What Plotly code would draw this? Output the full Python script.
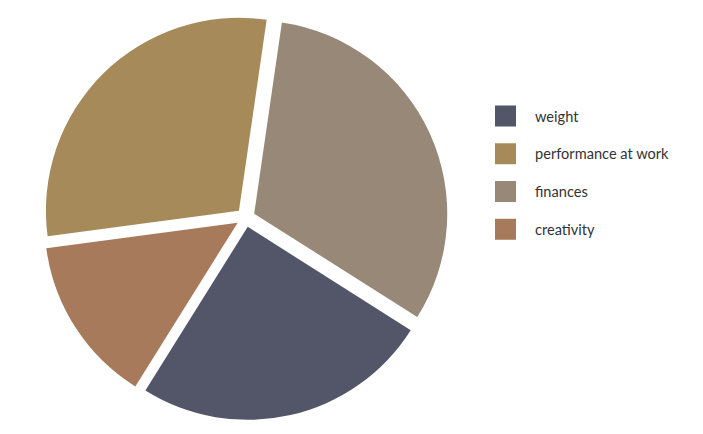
import plotly.graph_objects as go

# slice order as drawn clockwise (values in %)
pie_labels = ["finances", "weight", "creativity", "performance at work"]
pie_values = [31.7, 24.9, 14.0, 29.4]

# legend order
legend_labels = ["weight", "performance at work", "finances", "creativity"]
colors = {
    "weight": "#535668",
    "performance at work": "#A68A5A",
    "finances": "#978877",
    "creativity": "#A67A5A",
}

fig = go.Figure()
fig.add_trace(go.Pie(
    labels=pie_labels,
    values=pie_values,
    sort=False,
    direction="clockwise",
    rotation=8.25,
    pull=0.049,
    marker=dict(colors=[colors[l] for l in pie_labels], line=dict(color="white", width=0)),
    textinfo="none",
    showlegend=False,
    domain=dict(x=[43.1 / 703, 448.1 / 703], y=[13.9 / 434, 418.9 / 434]),
    hoverinfo="label+percent",
))

for i, lab in enumerate(legend_labels):
    fig.add_trace(go.Scatter(
        x=[None], y=[None], mode="markers", name=lab,
        legendgroup=str(i),
        marker=dict(symbol="square", size=16, color=colors[lab],
                    line=dict(color=colors[lab], width=5)),
    ))

fig.update_layout(
    width=703, height=434,
    margin=dict(l=0, r=0, t=0, b=0),
    paper_bgcolor="white", plot_bgcolor="white",
    xaxis=dict(visible=False), yaxis=dict(visible=False),
    font=dict(family="Lato", size=14.6, color="#333333"),
    legend=dict(
        x=476 / 703, y=1 - 100 / 434, xanchor="left", yanchor="top",
        itemwidth=49, tracegroupgap=15.8,
        bgcolor="rgba(0,0,0,0)",
    ),
)

fig.write_html("out.html")
